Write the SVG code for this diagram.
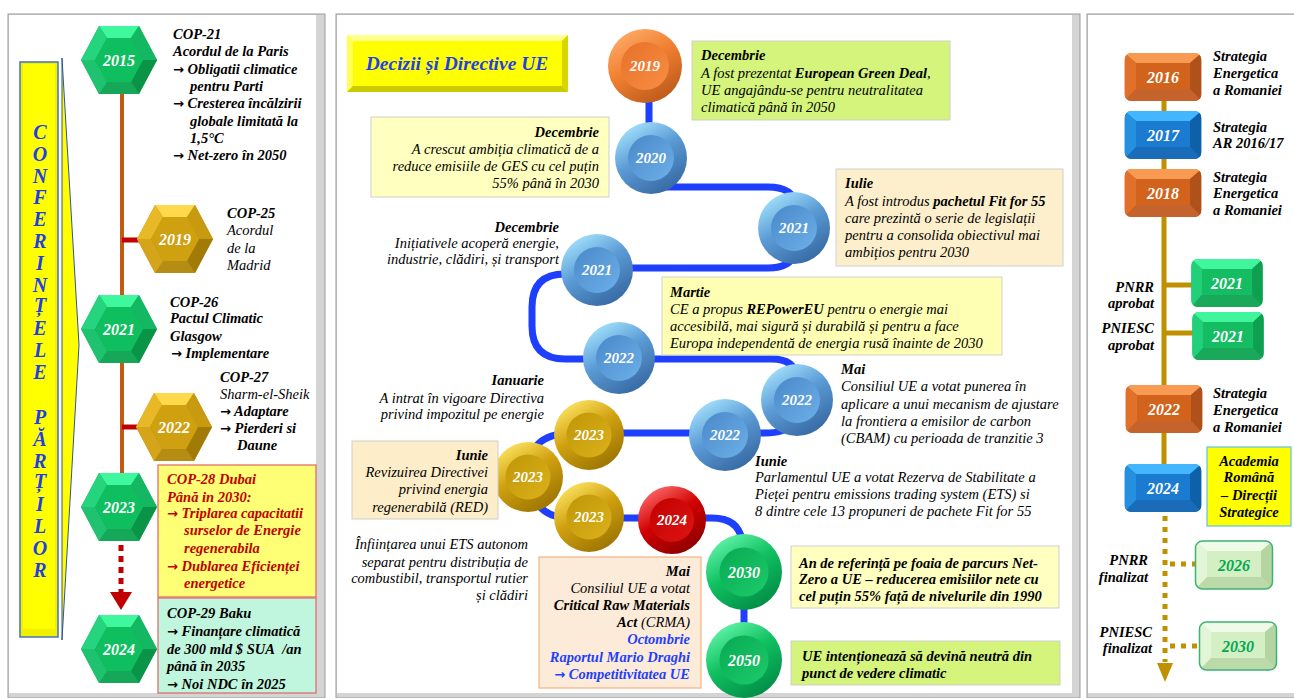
<svg xmlns="http://www.w3.org/2000/svg" xmlns:xlink="http://www.w3.org/1999/xlink" width="1294" height="698" viewBox="0 0 1294 698">
<style>
.t{font-family:"Liberation Serif","Times New Roman",serif;font-style:italic;font-size:14.5px;fill:#000}
.b{font-weight:bold}
.e{text-anchor:end}
.m{text-anchor:middle}
.ar{font-family:"DejaVu Sans",sans-serif;font-style:normal;font-weight:bold;font-size:13px}
.yr{font-family:"Liberation Serif","Times New Roman",serif;font-style:italic;font-weight:bold;font-size:15px;fill:#fff;text-anchor:middle}
.yh{font-size:16px}
.red{fill:#c00000}
.blu{fill:#1f3fff}
.ban{font-family:"Liberation Serif","Times New Roman",serif;font-style:italic;font-weight:bold;font-size:20px;fill:#1f3fe0;text-anchor:middle}
.bl{fill:none;stroke:#1f3fff;stroke-width:7;stroke-linecap:round}
.box{stroke:#cfcfcf;stroke-width:1}
</style>
<defs>
<linearGradient id="gBo" x1="0.2" y1="0" x2="0.8" y2="1"><stop offset="0" stop-color="#a8e6ff"/><stop offset="0.45" stop-color="#5b9bd5"/><stop offset="1" stop-color="#33649e"/></linearGradient>
<linearGradient id="gBi" x1="0" y1="0" x2="1" y2="1"><stop offset="0" stop-color="#4a88c8"/><stop offset="1" stop-color="#6cb0ea"/></linearGradient>
<linearGradient id="gOo" x1="0.2" y1="0" x2="0.8" y2="1"><stop offset="0" stop-color="#ffac6a"/><stop offset="0.45" stop-color="#f08030"/><stop offset="1" stop-color="#b8561a"/></linearGradient>
<linearGradient id="gOi" x1="0" y1="0" x2="1" y2="1"><stop offset="0" stop-color="#e87028"/><stop offset="1" stop-color="#f88e44"/></linearGradient>
<linearGradient id="gGo" x1="0.2" y1="0" x2="0.8" y2="1"><stop offset="0" stop-color="#ffe866"/><stop offset="0.45" stop-color="#d0a010"/><stop offset="1" stop-color="#967000"/></linearGradient>
<linearGradient id="gGi" x1="0" y1="0" x2="1" y2="1"><stop offset="0" stop-color="#bf9606"/><stop offset="1" stop-color="#dcb11c"/></linearGradient>
<linearGradient id="gRo" x1="0.2" y1="0" x2="0.8" y2="1"><stop offset="0" stop-color="#ff7070"/><stop offset="0.45" stop-color="#d00000"/><stop offset="1" stop-color="#880000"/></linearGradient>
<linearGradient id="gRi" x1="0" y1="0" x2="1" y2="1"><stop offset="0" stop-color="#c00000"/><stop offset="1" stop-color="#e01414"/></linearGradient>
<linearGradient id="gNo" x1="0.2" y1="0" x2="0.8" y2="1"><stop offset="0" stop-color="#66f7ae"/><stop offset="0.45" stop-color="#10c060"/><stop offset="1" stop-color="#008844"/></linearGradient>
<linearGradient id="gNi" x1="0" y1="0" x2="1" y2="1"><stop offset="0" stop-color="#08a852"/><stop offset="1" stop-color="#1ccc6c"/></linearGradient>
<g id="cB"><circle r="36" fill="url(#gBo)"/><circle r="23" fill="url(#gBi)"/></g>
<g id="cO"><circle r="37" fill="url(#gOo)"/><circle r="24" fill="url(#gOi)"/></g>
<g id="cG"><circle r="35" fill="url(#gGo)"/><circle r="22.5" fill="url(#gGi)"/></g>
<g id="cR"><circle r="34" fill="url(#gRo)"/><circle r="22" fill="url(#gRi)"/></g>
<g id="cN"><circle r="38" fill="url(#gNo)"/><circle r="24.5" fill="url(#gNi)"/></g>
<g id="hexG">
<polygon points="-38,0 -20,-34 20,-34 38,0 20,34 -20,34" fill="#12a955"/>
<polygon points="-20,-34 20,-34 12,-22 -12,-22" fill="#3ff79c"/>
<polygon points="-38,0 -20,-34 -12,-22 -24,0" fill="#26d47e"/>
<polygon points="20,-34 38,0 24,0 12,-22" fill="#14b863"/>
<polygon points="38,0 20,34 12,22 24,0" fill="#0a9447"/>
<polygon points="20,34 -20,34 -12,22 12,22" fill="#17a758"/>
<polygon points="-20,34 -38,0 -24,0 -12,22" fill="#1ec26f"/>
<polygon points="-24,0 -12,-22 12,-22 24,0 12,22 -12,22" fill="#0fbf5f"/>
</g>
<g id="hexY">
<polygon points="-38,0 -20,-34 20,-34 38,0 20,34 -20,34" fill="#c09010"/>
<polygon points="-20,-34 20,-34 12,-22 -12,-22" fill="#ffd94c"/>
<polygon points="-38,0 -20,-34 -12,-22 -24,0" fill="#e8b826"/>
<polygon points="20,-34 38,0 24,0 12,-22" fill="#c89a10"/>
<polygon points="38,0 20,34 12,22 24,0" fill="#a27a06"/>
<polygon points="20,34 -20,34 -12,22 12,22" fill="#b58c14"/>
<polygon points="-20,34 -38,0 -24,0 -12,22" fill="#d4a41a"/>
<polygon points="-24,0 -12,-22 12,-22 24,0 12,22 -12,22" fill="#cfa010"/>
</g>
<clipPath id="rr"><rect x="-38.5" y="-24" width="77" height="48" rx="7"/></clipPath>
<g id="bxO" clip-path="url(#rr)">
<rect x="-38.5" y="-24" width="77" height="48" fill="#d2631c"/>
<polygon points="-38.5,-24 38.5,-24 27,-14 -27,-14" fill="#f99a52"/>
<polygon points="-38.5,-24 -27,-14 -27,12 -38.5,24" fill="#e0702a"/>
<polygon points="38.5,-24 38.5,24 27,12 27,-14" fill="#b0501a"/>
<polygon points="-38.5,24 38.5,24 27,12 -27,12" fill="#c4642c"/>
</g>
<g id="bxB" clip-path="url(#rr)">
<rect x="-38.5" y="-24" width="77" height="48" fill="#1a7bd0"/>
<polygon points="-38.5,-24 38.5,-24 27,-14 -27,-14" fill="#42b6ff"/>
<polygon points="-38.5,-24 -27,-14 -27,12 -38.5,24" fill="#2590e0"/>
<polygon points="38.5,-24 38.5,24 27,12 27,-14" fill="#0e60a8"/>
<polygon points="-38.5,24 38.5,24 27,12 -27,12" fill="#1b6cb8"/>
</g>
<g id="bxG" clip-path="url(#rr)">
<rect x="-38.5" y="-24" width="77" height="48" fill="#14bd62"/>
<polygon points="-38.5,-24 38.5,-24 27,-14 -27,-14" fill="#40f59c"/>
<polygon points="-38.5,-24 -27,-14 -27,12 -38.5,24" fill="#22d07a"/>
<polygon points="38.5,-24 38.5,24 27,12 27,-14" fill="#0ea050"/>
<polygon points="-38.5,24 38.5,24 27,12 -27,12" fill="#1aa85a"/>
</g>
<g id="bxL">
<g clip-path="url(#rr)">
<rect x="-38.5" y="-24" width="77" height="48" fill="#d4efc4"/>
<polygon points="-38.5,-24 38.5,-24 27,-14 -27,-14" fill="#effbe8"/>
<polygon points="-38.5,-24 -27,-14 -27,12 -38.5,24" fill="#e2f5d6"/>
<polygon points="38.5,-24 38.5,24 27,12 27,-14" fill="#b4d4a2"/>
<polygon points="-38.5,24 38.5,24 27,12 -27,12" fill="#bcd9aa"/>
</g>
<rect x="-38.5" y="-24" width="77" height="48" rx="7" fill="none" stroke="#3cb371" stroke-width="1.5"/>
</g>
</defs>

<rect width="1294" height="698" fill="#ffffff"/>

<g id="panels">
<rect x="8" y="14" width="317" height="684" fill="#d4d4d4" stroke="#9a9a9a"/>
<rect x="9" y="15" width="307" height="678" fill="#ffffff"/>
<rect x="336" y="14" width="744" height="684" fill="#d4d4d4" stroke="#9a9a9a"/>
<rect x="337" y="15" width="735" height="678" fill="#ffffff"/>
<rect x="1087" y="14" width="210" height="684" fill="#d4d4d4" stroke="#9a9a9a"/>
<rect x="1088" y="15" width="210" height="678" fill="#ffffff"/>
</g>

<g id="banner">
<polygon points="62,58 79,345 62,640" fill="#ffff00" stroke="#2f5597" stroke-width="1"/>
<rect x="20" y="62" width="38" height="575" fill="#f0f000" stroke="#4472c4" stroke-width="1.5"/>
<rect x="23" y="64" width="32" height="565" fill="#ffff00"/>
<text class="ban" x="40" y="139">C</text>
<text class="ban" x="40" y="161">O</text>
<text class="ban" x="40" y="183">N</text>
<text class="ban" x="40" y="204">F</text>
<text class="ban" x="40" y="226">E</text>
<text class="ban" x="40" y="248">R</text>
<text class="ban" x="40" y="270">I</text>
<text class="ban" x="40" y="292">N</text>
<text class="ban" x="40" y="312">Ț</text>
<text class="ban" x="40" y="335">E</text>
<text class="ban" x="40" y="357">L</text>
<text class="ban" x="40" y="379">E</text>
<text class="ban" x="40" y="424">P</text>
<text class="ban" x="40" y="446">Ă</text>
<text class="ban" x="40" y="468">R</text>
<text class="ban" x="40" y="488">Ț</text>
<text class="ban" x="40" y="511">I</text>
<text class="ban" x="40" y="533">L</text>
<text class="ban" x="40" y="555">O</text>
<text class="ban" x="40" y="577">R</text>
</g>

<g id="connectors">
<line x1="122" y1="90" x2="122" y2="474" stroke="#c55a11" stroke-width="4"/>
<line x1="122" y1="240" x2="142" y2="240" stroke="#c00000" stroke-width="5"/>
<line x1="122" y1="427" x2="142" y2="427" stroke="#c00000" stroke-width="5"/>
<line x1="121" y1="545" x2="121" y2="592" stroke="#c00000" stroke-width="5" stroke-dasharray="6 5"/>
<polygon points="110,592 132,592 121,610" fill="#c00000"/>
<path class="bl" d="M649 100 V125"/>
<path class="bl" d="M665 187 H768 Q793 187 796 205"/>
<path class="bl" d="M795 250 Q793 268 768 268 H600"/>
<path class="bl" d="M597 274 H565 Q532 274 532 307 V326 Q532 359 565 359 H772 Q795 359 797 378"/>
<path class="bl" d="M790 425 Q785 433 765 433 H590"/>
<path class="bl" d="M562 434 Q541 436 532 452"/>
<path class="bl" d="M535 500 Q545 518 570 518 H712 Q738 518 742 540"/>
<path class="bl" d="M744 600 V632"/>
<line x1="1164" y1="100" x2="1164" y2="465" stroke="#bf9000" stroke-width="5"/>
<line x1="1164" y1="285" x2="1193" y2="285" stroke="#bf9000" stroke-width="5"/>
<line x1="1164" y1="333" x2="1193" y2="333" stroke="#bf9000" stroke-width="5"/>
<line x1="1165" y1="516" x2="1165" y2="662" stroke="#bf9000" stroke-width="5" stroke-dasharray="5 6"/>
<line x1="1170" y1="564" x2="1196" y2="564" stroke="#bf9000" stroke-width="5" stroke-dasharray="5 6"/>
<line x1="1170" y1="646" x2="1200" y2="646" stroke="#bf9000" stroke-width="5" stroke-dasharray="5 6"/>
<polygon points="1157,663 1173,663 1165,682" fill="#bf9000"/>
</g>

<g id="n-2015"><use href="#hexG" x="119" y="60"/><text class="yr yh" x="119" y="66">2015</text></g>
<g id="n-2019c"><use href="#hexY" x="175" y="239"/><text class="yr yh" x="175" y="245">2019</text></g>
<g id="n-2021c"><use href="#hexG" x="119" y="329"/><text class="yr yh" x="119" y="335">2021</text></g>
<g id="n-2022c"><use href="#hexY" x="174" y="427"/><text class="yr yh" x="174" y="433">2022</text></g>
<g id="n-2023c"><use href="#hexG" x="119" y="507"/><text class="yr yh" x="119" y="513">2023</text></g>
<g id="n-2024c"><use href="#hexG" x="119" y="649"/><text class="yr yh" x="119" y="655">2024</text></g>

<g id="t-cop21" class="t b">
<text x="173" y="39">COP-21</text>
<text x="173" y="56">Acordul de la Paris</text>
<text x="173" y="74"><tspan class="ar">→</tspan> Obligatii climatice</text>
<text x="190" y="91">pentru Parti</text>
<text x="173" y="108"><tspan class="ar">→</tspan> Cresterea încălzirii</text>
<text x="190" y="126">globale limitată la</text>
<text x="190" y="143">1,5°C</text>
<text x="173" y="160"><tspan class="ar">→</tspan> Net-zero în 2050</text>
</g>
<g id="t-cop25" class="t">
<text class="b" x="227" y="218">COP-25</text>
<text x="227" y="235">Acordul</text>
<text x="227" y="253">de la</text>
<text x="227" y="270">Madrid</text>
</g>
<g id="t-cop26" class="t b">
<text x="170" y="307">COP-26</text>
<text x="170" y="323">Pactul Climatic</text>
<text x="170" y="341">Glasgow</text>
<text x="171" y="358"><tspan class="ar">→</tspan> Implementare</text>
</g>
<g id="t-cop27" class="t">
<text class="b" x="220" y="382">COP-27</text>
<text x="220" y="399">Sharm-el-Sheik</text>
<text class="b" x="220" y="416"><tspan class="ar">→</tspan> Adaptare</text>
<text class="b" x="220" y="433"><tspan class="ar">→</tspan> Pierderi si</text>
<text class="b" x="237" y="450">Daune</text>
</g>
<g id="t-cop28">
<rect x="158" y="465" width="158" height="132" fill="#ffff75" stroke="#e06464" stroke-width="1.2"/>
<g class="t b red">
<text x="167" y="484">COP-28 Dubai</text>
<text x="167" y="502">Până in 2030:</text>
<text x="167" y="518"><tspan class="ar">→</tspan> Triplarea capacitatii</text>
<text x="184" y="535">surselor de Energie</text>
<text x="184" y="553">regenerabila</text>
<text x="167" y="571"><tspan class="ar">→</tspan> Dublarea Eficienței</text>
<text x="184" y="588">energetice</text>
</g>
</g>
<g id="t-cop29">
<rect x="158" y="598" width="158" height="95" fill="#c0f6de" stroke="#e06464" stroke-width="1.2"/>
<g class="t b">
<text x="167" y="618">COP-29 Baku</text>
<text x="167" y="636"><tspan class="ar">→</tspan> Finanțare climatică</text>
<text x="167" y="654">de 300 mld $ SUA&#160; /an</text>
<text x="167" y="671">până în 2035</text>
<text x="167" y="689"><tspan class="ar">→</tspan> Noi NDC în 2025</text>
</g>
</g>

<g id="title">
<rect x="347" y="35" width="221" height="57" fill="#ffff00"/>
<polygon points="347,35 568,35 562,41 353,41" fill="#ffff8c"/>
<polygon points="347,35 353,41 353,86 347,92" fill="#ffff55"/>
<polygon points="568,35 568,92 562,86 562,41" fill="#d6d600"/>
<polygon points="347,92 568,92 562,86 353,86" fill="#caca00"/>
<text x="457" y="70" class="m" style="font-family:'Liberation Serif','Times New Roman',serif;font-style:italic;font-weight:bold;font-size:19.5px;fill:#1f3fe8">Decizii și Directive UE</text>
</g>

<g id="n-2019"><use href="#cO" x="645" y="66"/><text class="yr" x="645" y="71">2019</text></g>
<g id="n-2020"><use href="#cB" x="651" y="158"/><text class="yr" x="651" y="163">2020</text></g>
<g id="n-2021a"><use href="#cB" x="794" y="228"/><text class="yr" x="794" y="233">2021</text></g>
<g id="n-2021b"><use href="#cB" x="597" y="270"/><text class="yr" x="597" y="275">2021</text></g>
<g id="n-2022a"><use href="#cB" x="619" y="358"/><text class="yr" x="619" y="363">2022</text></g>
<g id="n-2022b"><use href="#cB" x="797" y="400"/><text class="yr" x="797" y="405">2022</text></g>
<g id="n-2022c"><use href="#cB" x="725" y="435"/><text class="yr" x="725" y="440">2022</text></g>
<g id="n-2023a"><use href="#cG" x="589" y="435"/><text class="yr" x="589" y="440">2023</text></g>
<g id="n-2023b"><use href="#cG" x="528" y="477"/><text class="yr" x="528" y="482">2023</text></g>
<g id="n-2023c"><use href="#cG" x="589" y="517"/><text class="yr" x="589" y="522">2023</text></g>
<g id="n-2024"><use href="#cR" x="672" y="520"/><text class="yr" x="672" y="525">2024</text></g>
<g id="n-2030"><use href="#cN" x="744" y="572"/><text class="yr yh" x="744" y="578">2030</text></g>
<g id="n-2050"><use href="#cN" x="744" y="660"/><text class="yr yh" x="744" y="666">2050</text></g>

<g id="b-2019">
<rect class="box" x="692" y="41" width="258" height="79" fill="#d4f47c"/>
<g class="t">
<text class="b" x="701" y="60">Decembrie</text>
<text x="701" y="78">A fost prezentat <tspan class="b">European Green Deal</tspan>,</text>
<text x="701" y="95">UE angajându-se pentru neutralitatea</text>
<text x="701" y="112">climatică până în 2050</text>
</g>
</g>
<g id="b-2020">
<rect class="box" x="371" y="117" width="238" height="80" fill="#ffffbf"/>
<g class="t e">
<text class="b" x="599" y="137">Decembrie</text>
<text x="599" y="154">A crescut ambiția climatică de a</text>
<text x="599" y="171">reduce emisiile de GES cu cel puțin</text>
<text x="599" y="188">55% până în 2030</text>
</g>
</g>
<g id="b-2021b" class="t e">
<text class="b" x="559" y="232">Decembrie</text>
<text x="559" y="248">Inițiativele acoperă energie,</text>
<text x="559" y="264">industrie, clădiri, și transport</text>
</g>
<g id="b-2021a">
<rect class="box" x="836" y="169" width="227" height="97" fill="#fdefcc"/>
<g class="t">
<text class="b" x="845" y="188">Iulie</text>
<text x="845" y="206">A fost introdus <tspan class="b">pachetul Fit for 55</tspan></text>
<text x="845" y="223">care prezintă o serie de legislații</text>
<text x="845" y="240">pentru a consolida obiectivul mai</text>
<text x="845" y="257">ambițios pentru 2030</text>
</g>
</g>
<g id="b-2022a">
<rect class="box" x="662" y="277" width="340" height="78" fill="#ffffb4"/>
<g class="t">
<text class="b" x="670" y="297">Martie</text>
<text x="670" y="314">CE a propus <tspan class="b">REPowerEU</tspan> pentru o energie mai</text>
<text x="670" y="331">accesibilă, mai sigură și durabilă și pentru a face</text>
<text x="670" y="348">Europa independentă de energia rusă înainte de 2030</text>
</g>
</g>
<g id="b-2022b" class="t">
<text class="b" x="841" y="374">Mai</text>
<text x="841" y="391">Consiliul UE a votat punerea în</text>
<text x="841" y="409">aplicare a unui mecanism de ajustare</text>
<text x="841" y="426">la frontiera a emisilor de carbon</text>
<text x="841" y="443">(CBAM) cu perioada de tranzitie 3</text>
</g>
<g id="b-2023a" class="t e">
<text class="b" x="544" y="385">Ianuarie</text>
<text x="544" y="403">A intrat în vigoare Directiva</text>
<text x="544" y="419">privind impozitul pe energie</text>
</g>
<g id="b-2023b">
<rect class="box" x="352" y="441" width="146" height="78" fill="#fdedc8"/>
<g class="t e">
<text class="b" x="488" y="460">Iunie</text>
<text x="488" y="477">Revizuirea Directivei</text>
<text x="488" y="494">privind energia</text>
<text x="488" y="512">regenerabilă (RED)</text>
</g>
</g>
<g id="b-2022c" class="t">
<text class="b" x="755" y="466">Iunie</text>
<text x="755" y="482">Parlamentul UE a votat Rezerva de Stabilitate a</text>
<text x="755" y="499">Pieței pentru emissions trading system (ETS) si</text>
<text x="755" y="516">8 dintre cele 13 propuneri de pachete Fit for 55</text>
</g>
<g id="b-2023c" class="t e">
<text x="528" y="549">Înființarea unui ETS autonom</text>
<text x="528" y="567">separat pentru distribuția de</text>
<text x="528" y="583">combustibil, transportul rutier</text>
<text x="528" y="600">și clădiri</text>
</g>
<g id="b-2024">
<rect x="539" y="557" width="162" height="131" fill="#fdebd9" stroke="#f4b183" stroke-width="1.2"/>
<g class="t e">
<text class="b" x="690" y="576">Mai</text>
<text x="690" y="593">Consiliul UE a votat</text>
<text class="b" x="690" y="610">Critical Raw Materials</text>
<text x="690" y="627"><tspan class="b">Act</tspan> (CRMA)</text>
<text class="b blu" x="690" y="644">Octombrie</text>
<text class="b blu" x="690" y="662">Raportul Mario Draghi</text>
<text class="b blu" x="690" y="679"><tspan class="ar">→</tspan> Competitivitatea UE</text>
</g>
</g>
<g id="b-2030">
<rect class="box" x="791" y="546" width="268" height="62" fill="#ffffbf"/>
<g class="t b">
<text x="799" y="568">An de referință pe foaia de parcurs Net-</text>
<text x="799" y="584">Zero a UE – reducerea emisiilor nete cu</text>
<text x="799" y="601">cel puțin 55% față de nivelurile din 1990</text>
</g>
</g>
<g id="b-2050">
<rect class="box" x="791" y="641" width="269" height="44" fill="#d4f47c"/>
<g class="t b">
<text x="802" y="661">UE intenționează să devină neutră din</text>
<text x="802" y="678">punct de vedere climatic</text>
</g>
</g>

<g id="r-2016"><use href="#bxO" x="1163" y="77"/><text class="yr yh" x="1163" y="83">2016</text></g>
<g id="r-2017"><use href="#bxB" x="1163" y="135"/><text class="yr yh" x="1163" y="141">2017</text></g>
<g id="r-2018"><use href="#bxO" x="1163" y="193"/><text class="yr yh" x="1163" y="199">2018</text></g>
<g id="r-2021a"><use href="#bxG" transform="translate(1227 283) scale(0.93 1)"/><text class="yr yh" x="1227" y="289">2021</text></g>
<g id="r-2021b"><use href="#bxG" transform="translate(1228 336) scale(0.93 1)"/><text class="yr yh" x="1228" y="342">2021</text></g>
<g id="r-2022"><use href="#bxO" x="1164" y="409"/><text class="yr yh" x="1164" y="415">2022</text></g>
<g id="r-2024"><use href="#bxB" x="1163" y="488"/><text class="yr yh" x="1163" y="494">2024</text></g>
<g id="r-2026"><use href="#bxL" x="1234" y="565"/><text class="yr yh" x="1234" y="571" style="fill:#00a850">2026</text></g>
<g id="r-2030"><use href="#bxL" x="1238" y="646"/><text class="yr yh" x="1238" y="652" style="fill:#00a850">2030</text></g>

<g id="r-texts" class="t b">
<text x="1213" y="61">Strategia</text>
<text x="1213" y="78">Energetica</text>
<text x="1213" y="95">a Romaniei</text>
<text x="1213" y="132">Strategia</text>
<text x="1213" y="148">AR 2016/17</text>
<text x="1213" y="182">Strategia</text>
<text x="1213" y="198">Energetica</text>
<text x="1213" y="215">a Romaniei</text>
<text class="e" x="1154" y="292">PNRR</text>
<text class="e" x="1154" y="308">aprobat</text>
<text class="e" x="1154" y="333">PNIESC</text>
<text class="e" x="1154" y="350">aprobat</text>
<text x="1213" y="398">Strategia</text>
<text x="1213" y="415">Energetica</text>
<text x="1213" y="432">a Romaniei</text>
<text class="e" x="1148" y="565">PNRR</text>
<text class="e" x="1148" y="582">finalizat</text>
<text class="e" x="1152" y="637">PNIESC</text>
<text class="e" x="1152" y="653">finalizat</text>
</g>
<g id="r-academia">
<rect x="1207" y="447" width="84" height="79" fill="#ffff00" stroke="#5bc0eb" stroke-width="1.2"/>
<g class="t b m">
<text x="1249" y="466">Academia</text>
<text x="1249" y="482">Română</text>
<text x="1249" y="500">– Direcții</text>
<text x="1249" y="517">Strategice</text>
</g>
</g>
</svg>
